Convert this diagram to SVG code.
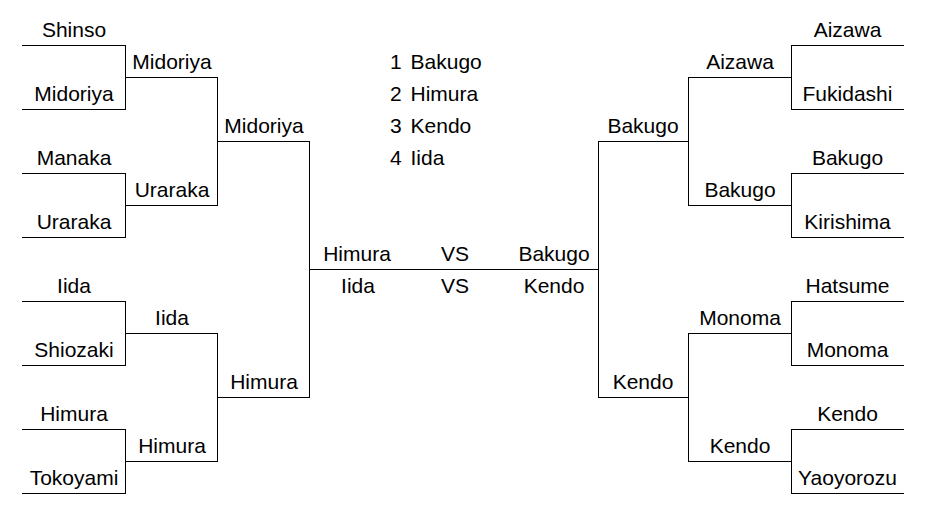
<svg xmlns="http://www.w3.org/2000/svg" width="933" height="507" viewBox="0 0 933 507">
<style>
text{font-family:"Liberation Sans",Arial,sans-serif;font-size:21px;fill:#000;text-anchor:middle}
.lg{text-anchor:start;word-spacing:3px}
line,path{stroke:#000;stroke-width:1;fill:none}
</style>
<rect width="933" height="507" fill="#fff"/>
<!-- left round 1 -->
<g id="L1-shinso"><line x1="22" y1="45.5" x2="126" y2="45.5"/><text x="74" y="37">Shinso</text></g>
<g id="L1-midoriya"><line x1="22" y1="109.5" x2="126" y2="109.5"/><text x="74" y="101">Midoriya</text></g>
<g id="L1-manaka"><line x1="22" y1="173.5" x2="126" y2="173.5"/><text x="74" y="165">Manaka</text></g>
<g id="L1-uraraka"><line x1="22" y1="237.5" x2="126" y2="237.5"/><text x="74" y="229">Uraraka</text></g>
<g id="L1-iida"><line x1="22" y1="301.5" x2="126" y2="301.5"/><text x="74" y="293">Iida</text></g>
<g id="L1-shiozaki"><line x1="22" y1="365.5" x2="126" y2="365.5"/><text x="74" y="357">Shiozaki</text></g>
<g id="L1-himura"><line x1="22" y1="429.5" x2="126" y2="429.5"/><text x="74" y="421">Himura</text></g>
<g id="L1-tokoyami"><line x1="22" y1="493.5" x2="126" y2="493.5"/><text x="74" y="485">Tokoyami</text></g>
<!-- left round 2 -->
<g id="L2-midoriya"><line x1="126" y1="77.5" x2="218" y2="77.5"/><text x="172" y="69">Midoriya</text></g>
<g id="L2-uraraka"><line x1="126" y1="205.5" x2="218" y2="205.5"/><text x="172" y="197">Uraraka</text></g>
<g id="L2-iida"><line x1="126" y1="333.5" x2="218" y2="333.5"/><text x="172" y="325">Iida</text></g>
<g id="L2-himura"><line x1="126" y1="461.5" x2="218" y2="461.5"/><text x="172" y="453">Himura</text></g>
<!-- left round 3 -->
<g id="L3-midoriya"><line x1="218" y1="141.5" x2="310" y2="141.5"/><text x="264" y="133">Midoriya</text></g>
<g id="L3-himura"><line x1="218" y1="397.5" x2="310" y2="397.5"/><text x="264" y="389">Himura</text></g>
<!-- right round 1 -->
<g id="R1-aizawa"><line x1="791" y1="45.5" x2="904" y2="45.5"/><text x="847.5" y="37">Aizawa</text></g>
<g id="R1-fukidashi"><line x1="791" y1="109.5" x2="904" y2="109.5"/><text x="847.5" y="101">Fukidashi</text></g>
<g id="R1-bakugo"><line x1="791" y1="173.5" x2="904" y2="173.5"/><text x="847.5" y="165">Bakugo</text></g>
<g id="R1-kirishima"><line x1="791" y1="237.5" x2="904" y2="237.5"/><text x="847.5" y="229">Kirishima</text></g>
<g id="R1-hatsume"><line x1="791" y1="301.5" x2="904" y2="301.5"/><text x="847.5" y="293">Hatsume</text></g>
<g id="R1-monoma"><line x1="791" y1="365.5" x2="904" y2="365.5"/><text x="847.5" y="357">Monoma</text></g>
<g id="R1-kendo"><line x1="791" y1="429.5" x2="904" y2="429.5"/><text x="847.5" y="421">Kendo</text></g>
<g id="R1-yaoyorozu"><line x1="791" y1="493.5" x2="904" y2="493.5"/><text x="847.5" y="485">Yaoyorozu</text></g>
<!-- right round 2 -->
<g id="R2-aizawa"><line x1="688" y1="77.5" x2="792" y2="77.5"/><text x="740" y="69">Aizawa</text></g>
<g id="R2-bakugo"><line x1="688" y1="205.5" x2="792" y2="205.5"/><text x="740" y="197">Bakugo</text></g>
<g id="R2-monoma"><line x1="688" y1="333.5" x2="792" y2="333.5"/><text x="740" y="325">Monoma</text></g>
<g id="R2-kendo"><line x1="688" y1="461.5" x2="792" y2="461.5"/><text x="740" y="453">Kendo</text></g>
<!-- right round 3 -->
<g id="R3-bakugo"><line x1="598" y1="141.5" x2="689" y2="141.5"/><text x="643" y="133">Bakugo</text></g>
<g id="R3-kendo"><line x1="598" y1="397.5" x2="689" y2="397.5"/><text x="643" y="389">Kendo</text></g>
<!-- final -->
<g id="final"><line x1="309" y1="269.5" x2="599" y2="269.5"/>
<text x="357" y="261">Himura</text><text x="455" y="261">VS</text><text x="554" y="261">Bakugo</text>
<text x="358" y="293">Iida</text><text x="455" y="293">VS</text><text x="554" y="293">Kendo</text></g>
<!-- ranking -->
<g id="ranking">
<text class="lg" x="390" y="69">1 Bakugo</text>
<text class="lg" x="390" y="101">2 Himura</text>
<text class="lg" x="390" y="133">3 Kendo</text>
<text class="lg" x="390" y="165">4 Iida</text>
</g>
<!-- connectors -->
<g id="connectors">
<line x1="125.5" y1="45" x2="125.5" y2="110"/>
<line x1="125.5" y1="173" x2="125.5" y2="238"/>
<line x1="125.5" y1="301" x2="125.5" y2="366"/>
<line x1="125.5" y1="429" x2="125.5" y2="494"/>
<line x1="217.5" y1="77" x2="217.5" y2="206"/>
<line x1="217.5" y1="333" x2="217.5" y2="462"/>
<line x1="309.5" y1="141" x2="309.5" y2="398"/>
<line x1="598.5" y1="141" x2="598.5" y2="398"/>
<line x1="688.5" y1="77" x2="688.5" y2="206"/>
<line x1="688.5" y1="333" x2="688.5" y2="462"/>
<line x1="791.5" y1="45" x2="791.5" y2="110"/>
<line x1="791.5" y1="173" x2="791.5" y2="238"/>
<line x1="791.5" y1="301" x2="791.5" y2="366"/>
<line x1="791.5" y1="429" x2="791.5" y2="494"/>
</g>
</svg>
